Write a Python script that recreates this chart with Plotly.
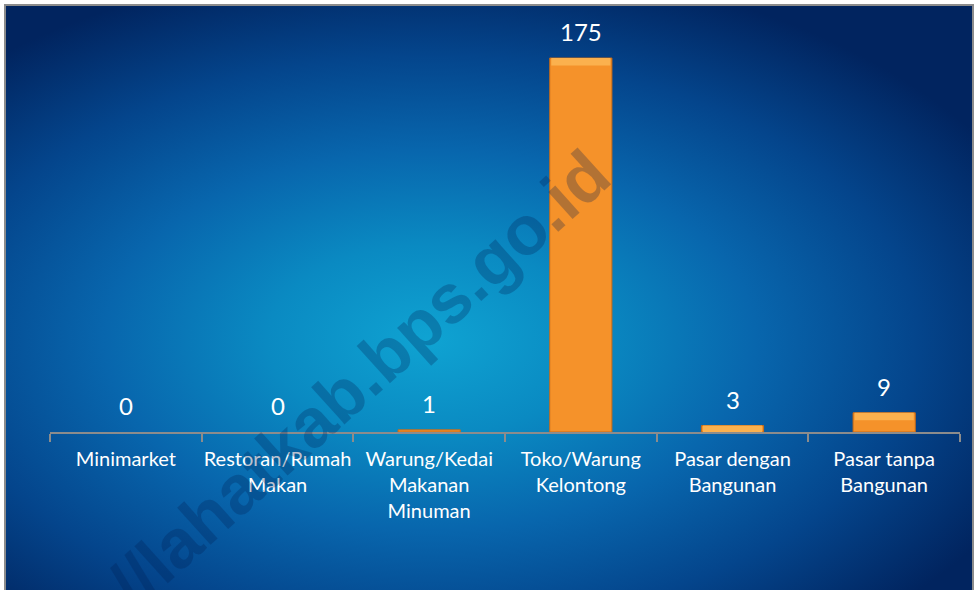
import plotly.graph_objects as go

# jumlah sarana perdagangan
categories = ["Minimarket", "Restoran/Rumah<br>Makan", "Warung/Kedai<br>Makanan<br>Minuman",
              "Toko/Warung<br>Kelontong", "Pasar dengan<br>Bangunan", "Pasar tanpa<br>Bangunan"]
values = [0, 0, 1, 175, 3, 9]

W, H = 976, 590
NAVY = "#01245f"
BEVEL = 3.5  # lighter top edge of each bar, in data units

fig = go.Figure()

# background glow (pixel coordinates on a hidden subplot)
gx0, gx1, gy0, gy1 = -220, 1080, -40, 720
fig.add_trace(go.Scatter(
    x=[gx0, gx1, gx1, gx0, gx0], y=[gy0, gy0, gy1, gy1, gy0],
    mode="lines", line=dict(width=0), fill="toself",
    fillgradient=dict(type="radial", colorscale=[
        [0, "#0fa3d2"], [0.25, "#0a8ac2"], [0.5, "#0866ad"],
        [0.75, "#04458c"], [1, NAVY]]),
    hoverinfo="skip", showlegend=False, xaxis="x", yaxis="y"))

fig.add_trace(go.Bar(
    x=categories, y=values, width=0.41,
    marker=dict(color="#f5922a",
                line=dict(width=[0 if v == 0 else 1 for v in values], color="#c96b17")),
    xaxis="x2", yaxis="y2", showlegend=False, hoverinfo="skip"))

# bevel highlight
bev = [min(v, BEVEL) if v > 1 else 0 for v in values]
fig.add_trace(go.Bar(
    x=categories, y=bev, base=[v - b for v, b in zip(values, bev)], width=0.39,
    marker=dict(color="#fbb14e", line=dict(width=0)),
    xaxis="x2", yaxis="y2", showlegend=False, hoverinfo="skip"))

for c, v in zip(categories, values):
    fig.add_annotation(x=c, y=v, xref="x2", yref="y2", text=str(v), showarrow=False,
                       yanchor="bottom", yshift=10,
                       font=dict(family="Lato", size=24, color="white"))

fig.add_annotation(x=0.31, y=0.27, xref="paper", yref="paper", xanchor="center", yanchor="middle",
                   text="http://lahatkab.bps.go.id", showarrow=False, textangle=-42,
                   font=dict(family="Liberation Sans", size=69, weight="bold",
                             color="rgba(0,30,80,0.27)"))

fig.add_shape(type="rect", xref="paper", yref="paper", x0=5/W, x1=973/W, y0=-0.01, y1=1-5/H,
              line=dict(color="#8c8c8c", width=2), layer="above")

fig.update_layout(
    width=W, height=H, barmode="overlay",
    margin=dict(l=0, r=0, t=0, b=0),
    paper_bgcolor="white", plot_bgcolor="rgba(0,0,0,0)",
    xaxis=dict(domain=[5/W, 973/W], range=[5, 973], visible=False, fixedrange=True),
    yaxis=dict(domain=[0, 1-5/H], range=[590, 5], visible=False, fixedrange=True),
    xaxis2=dict(domain=[50/W, 960/W], anchor="y2", type="category", range=[-0.5, 5.5],
                showline=True, linecolor="#8c8c8c", linewidth=2,
                ticks="outside", tickson="boundaries", ticklen=8, tickcolor="#8c8c8c", tickwidth=2,
                ticklabelstandoff=8, tickangle=0, automargin=False,
                showgrid=False, tickfont=dict(family="Lato", size=20, color="white")),
    yaxis2=dict(domain=[1-432/H, 1-20/H], anchor="x2", range=[0, 192.8], visible=False,
                automargin=False),
)

fig.write_html("out.html", config={"displayModeBar": False},
               post_script="document.body.style.margin='0px';")
